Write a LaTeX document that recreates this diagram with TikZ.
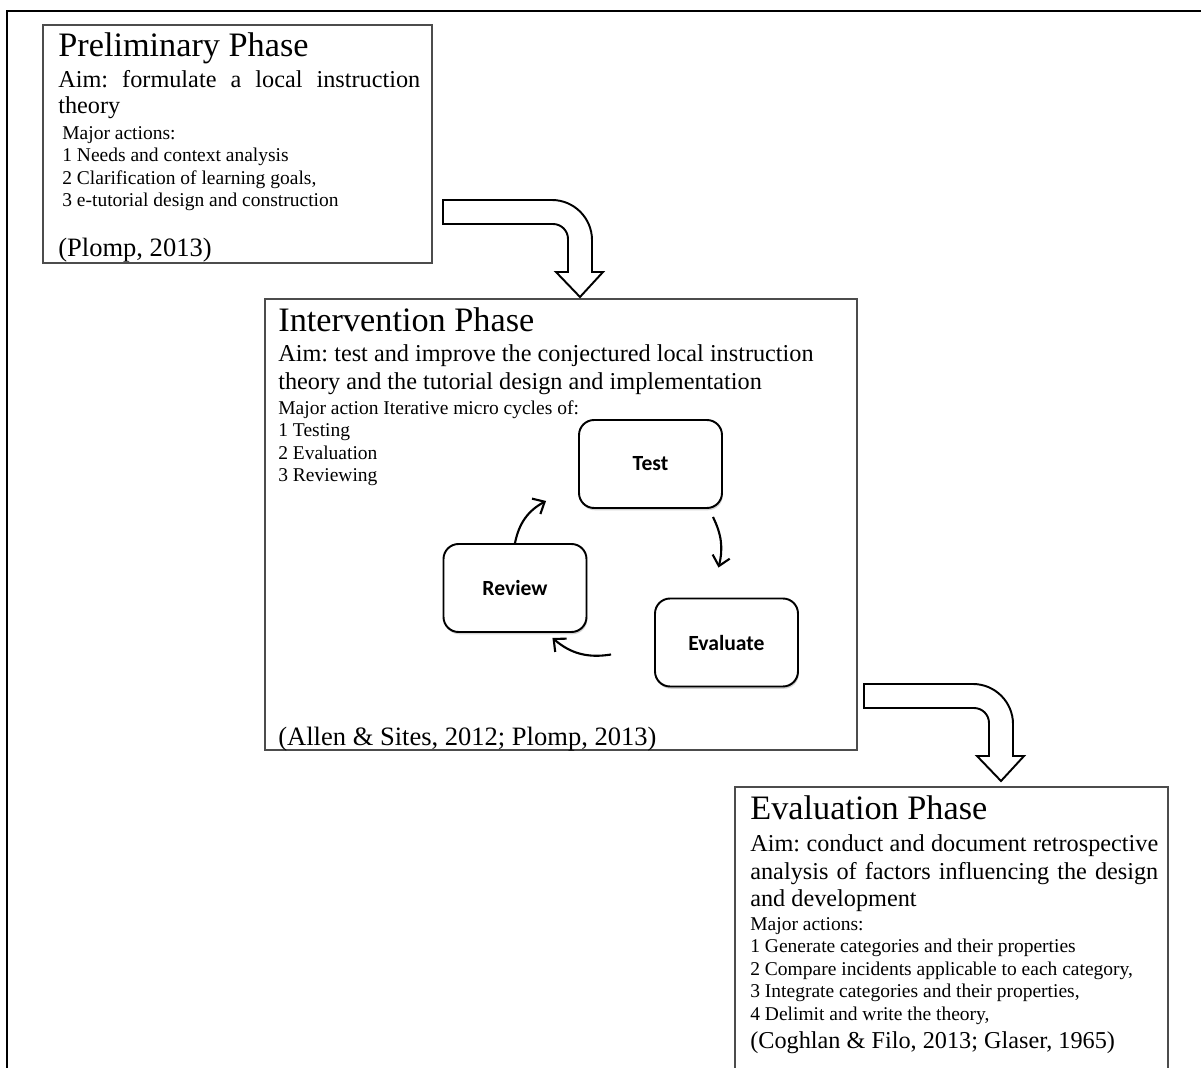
\documentclass[tikz,border=0pt]{standalone}
\usepackage{fontspec}
\setmainfont{Liberation Serif}
\newfontfamily\calibri{Carlito}
\usetikzlibrary{arrows.meta,shadows}
\frenchspacing

\tikzset{
  phase/.style={draw=black!70, line width=0.6pt},
  ptitle/.style={anchor=base west, inner sep=0pt, font=\fontsize{19.5pt}{23pt}\selectfont},
  paim/.style={anchor=base west, inner sep=0pt, font=\fontsize{13.8pt}{16pt}\selectfont},
  pact/.style={anchor=base west, inner sep=0pt, font=\fontsize{11.1pt}{13pt}\selectfont},
  pcite/.style={anchor=base west, inner sep=0pt, font=\fontsize{15.1pt}{18pt}\selectfont},
  cycbox/.style={draw, line width=1.1pt, rounded corners=0.3cm, fill=white,
    minimum width=2.86cm, minimum height=1.76cm,
    font=\calibri\bfseries\fontsize{12.3pt}{14pt}\selectfont,
    drop shadow={shadow xshift=0.5pt, shadow yshift=-1.3pt, opacity=0.35}},
  cycarrow/.style={line width=1.2pt, -{Straight Barb[length=5.5pt,width=10pt]}},
  bentarrow/.pic={
    \draw[line width=1.1pt, fill=white]
      (-149,0) -- (-40,0) .. controls (-18,0) and (0,18) .. (0,40) -- % outer bend
      (0,72) -- (11,72) -- (-12,97) -- (-36,72) -- (-24,72) --         % head
      (-24,39) .. controls (-24,30.7) and (-30.7,24) .. (-39,24) --    % inner bend
      (-149,24) -- cycle;
  }
}

\begin{document}
\begin{tikzpicture}[x=0.02cm, y=-0.02cm]
\useasboundingbox (0,0) rectangle (1201,1068);

% frame
\draw[line width=1.2pt] (1201,11) -- (7,11) -- (7,1068);

% Preliminary Phase
\draw[phase] (43,25) rectangle (432,263);
\node[ptitle] (prelimtitle) at (58,57) {Preliminary Phase};
\node[paim] (prelimaim1) at (58,87.5) {\makebox[7.24cm][s]{Aim: formulate a local instruction}};
\node[paim] (prelimaim2) at (58,113) {theory};
\foreach \txt [count=\i] in {Major actions:, 1 Needs and context analysis,
    {2 Clarification of learning goals,}, 3 e-tutorial design and construction}
  \node[pact] (prelimact\i) at (62,{139.5+22.4*(\i-1)}) {\txt};
\node[pcite] (prelimcite) at (58,256.5) {(Plomp, 2013)};

% Intervention Phase
\draw[phase] (265,299) rectangle (857,750);
\node[ptitle] (intertitle) at (278,331) {Intervention Phase};
\node[paim] (interaim1) at (278,361.5) {Aim: test and improve the conjectured local instruction};
\node[paim] (interaim2) at (278,389.5) {theory and the tutorial design and implementation};
\foreach \txt [count=\i] in {Major action Iterative micro cycles of:, 1 Testing,
    2 Evaluation, 3 Reviewing}
  \node[pact] (interact\i) at (278,{414+22.5*(\i-1)}) {\txt};
\node[pcite] (intercite) at (278,745.5) {(Allen \& Sites, 2012; Plomp, 2013)};

% micro cycle
\node[cycbox] (test) at (650.5,464) {Test};
\node[cycbox] (review) at (515,588) {Review};
\node[cycbox] (evaluate) at (726.5,642.5) {Evaluate};
\draw[cycarrow] ([shift={(-10,8)}]test.south east) to[bend left=20] ([shift={(-8,-30)}]evaluate.north);
\draw[cycarrow] ([shift={(-43,12)}]evaluate.west) to[bend left=25] ([shift={(-35,5)}]review.south east);
\draw[cycarrow] (review.north) to[bend left=25] ([shift={(-32,-8)}]test.south west);

% Evaluation Phase
\draw[phase] (735,1068) -- (735,787) -- (1168,787) -- (1168,1068);
\node[ptitle] (evaltitle) at (750,819.5) {Evaluation Phase};
\node[paim] (evalaim1) at (750,851.5) {\makebox[8.16cm][s]{Aim: conduct and document retrospective}};
\node[paim] (evalaim2) at (750,879.3) {\makebox[8.16cm][s]{analysis of factors influencing the design}};
\node[paim] (evalaim3) at (750,906.8) {and development};
\foreach \txt [count=\i] in {Major actions:, 1 Generate categories and their properties,
    {2 Compare incidents applicable to each category,},
    {3 Integrate categories and their properties,}, {4 Delimit and write the theory,}}
  \node[pact] (evalact\i) at (750,{930+22.5*(\i-1)}) {\txt};
\node[paim] (evalcite) at (750,1048.3) {(Coghlan \& Filo, 2013; Glaser, 1965)};

% bent arrows between the phases
\pic (arrowone) at (592,200) {bentarrow};
\pic (arrowtwo) at (1013,684) {bentarrow};

\end{tikzpicture}
\end{document}
